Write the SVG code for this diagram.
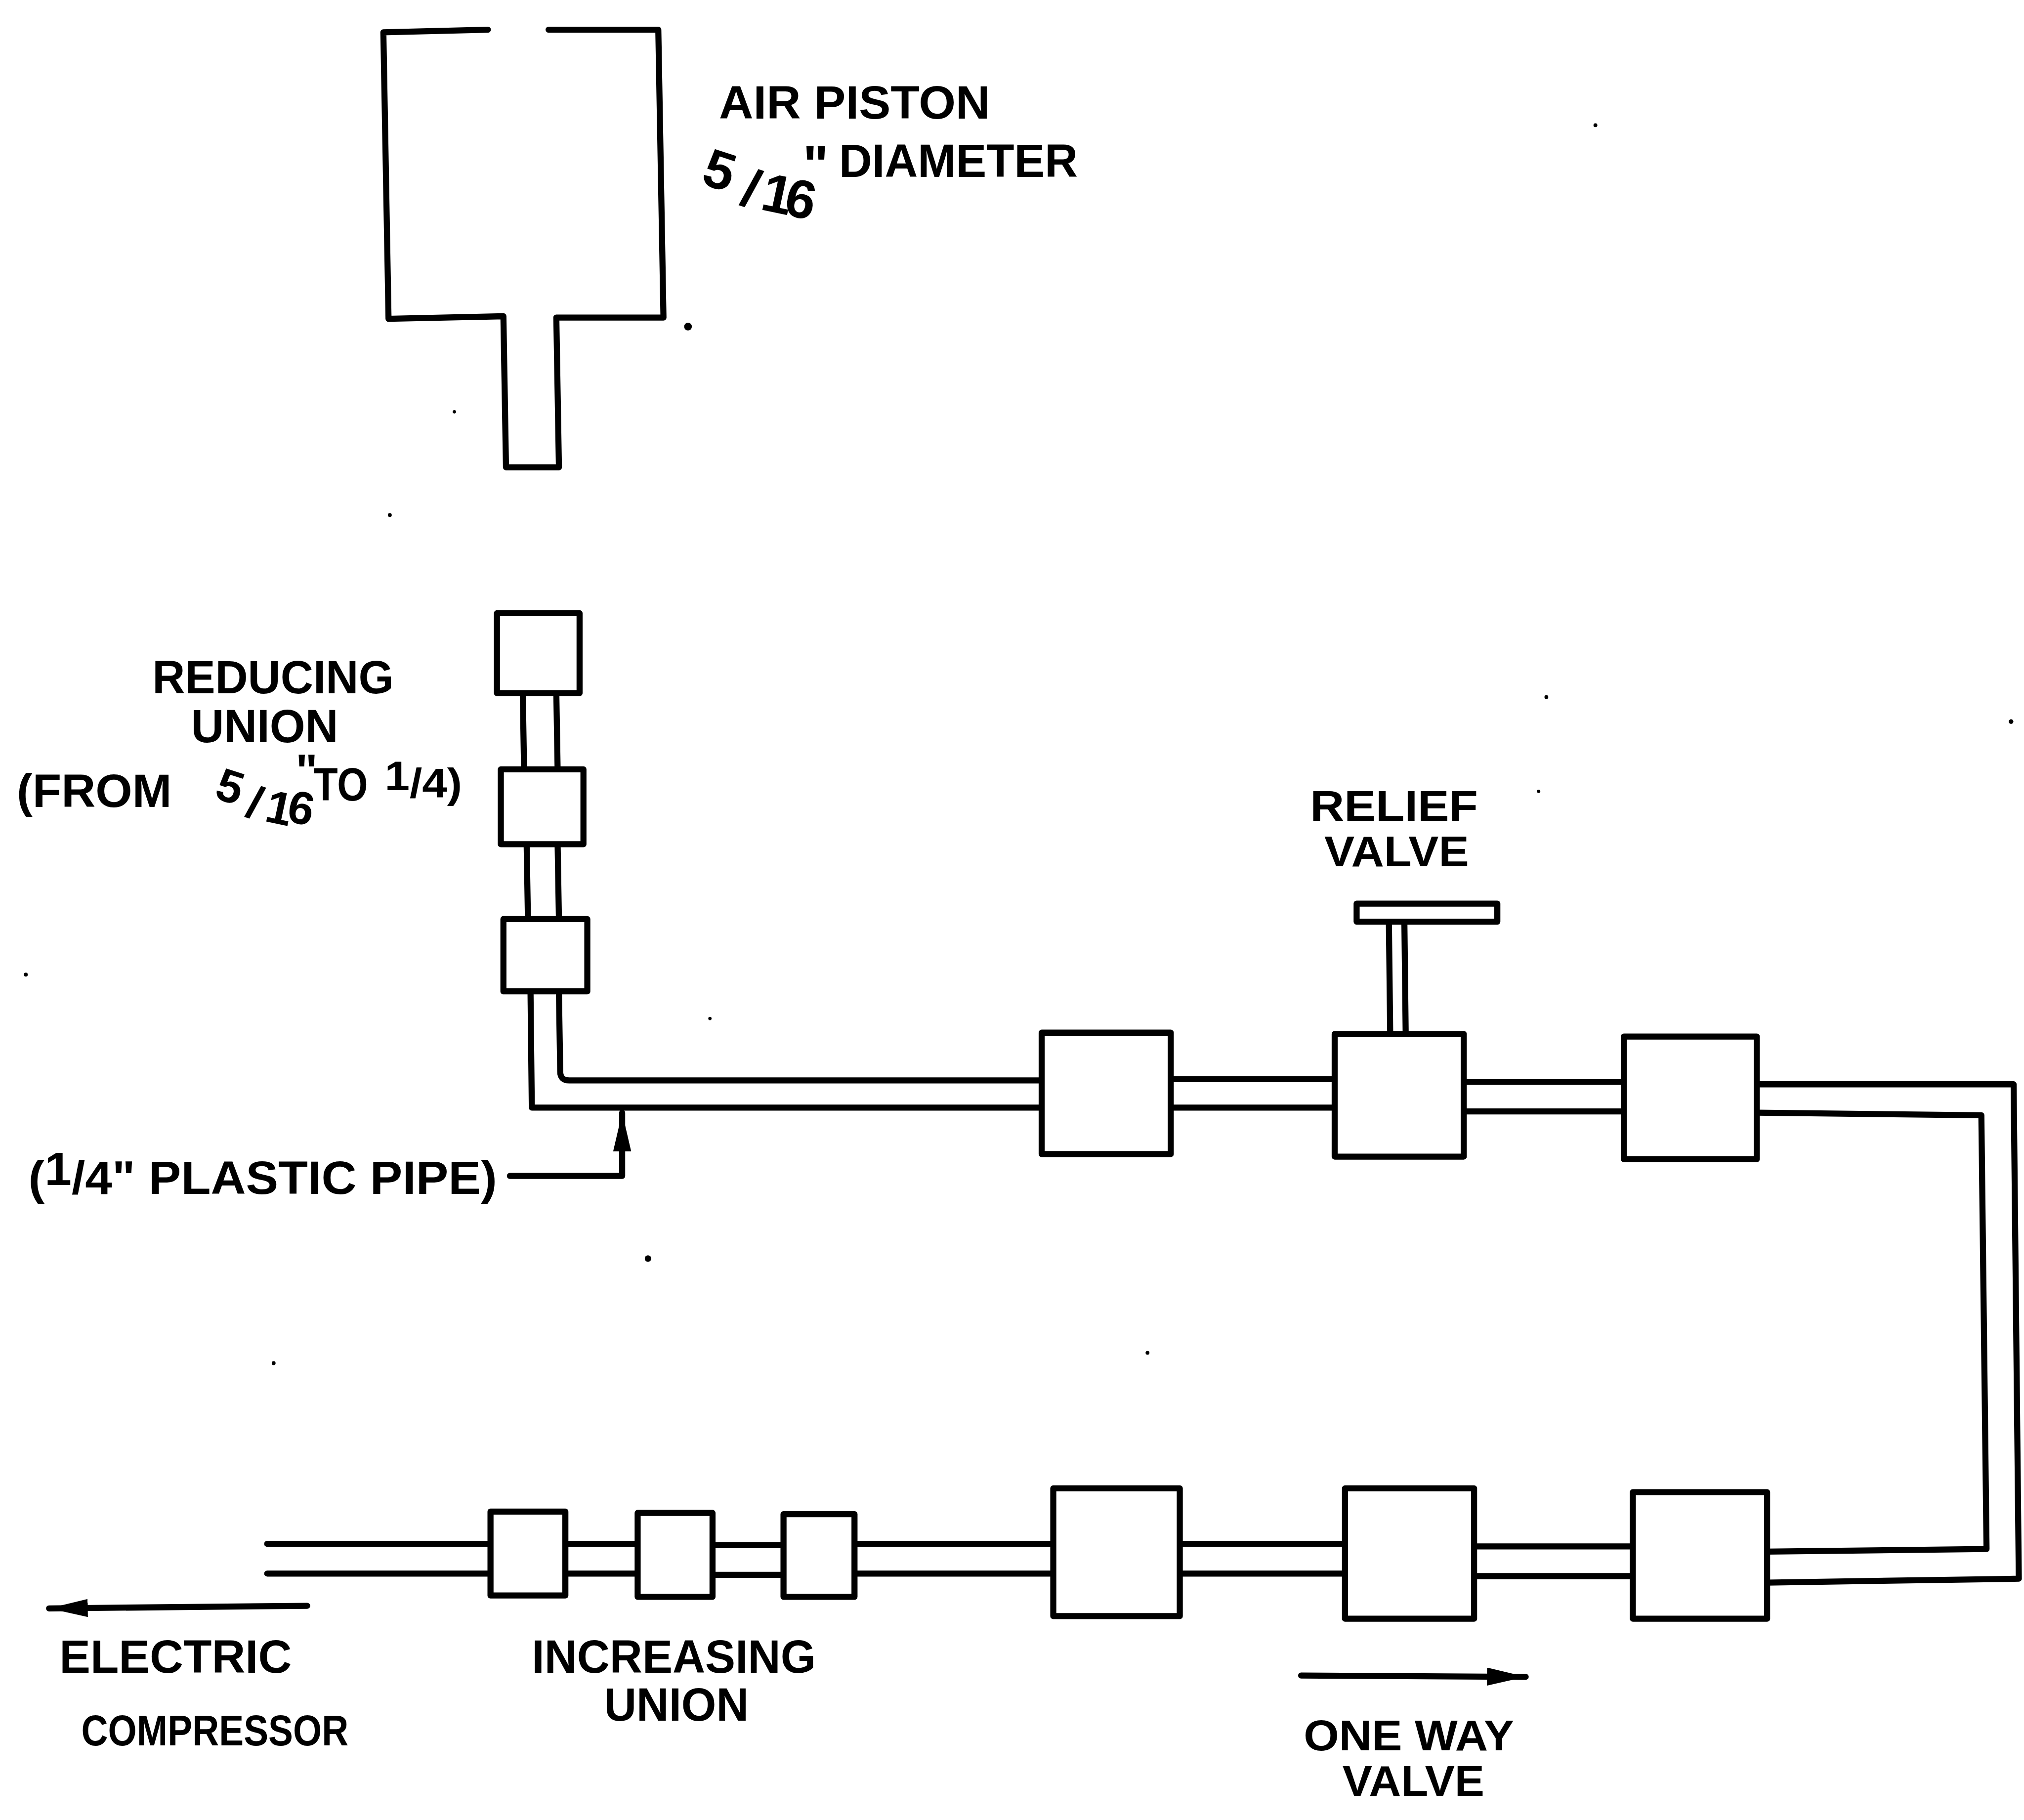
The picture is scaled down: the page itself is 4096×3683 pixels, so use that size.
<svg xmlns="http://www.w3.org/2000/svg" width="4096" height="3683" viewBox="0 0 4096 3683">
<defs>
<style>
.s{fill:none;stroke:#000;stroke-width:4.7;stroke-linejoin:round;stroke-linecap:round}
.b{fill:#fff;stroke:#000;stroke-width:4.7;stroke-linejoin:round}
.t{font-family:"Liberation Sans",Arial,sans-serif;font-weight:700;font-size:36px;fill:#000}
.h{font-family:"Liberation Sans",Arial,sans-serif;font-weight:700;font-size:42px;fill:#000}
.n{font-size:33.5px}
.d{fill:#000}
</style>
<marker id="ah" viewBox="0 0 30 14" refX="30" refY="7" markerUnits="userSpaceOnUse" markerWidth="30" markerHeight="14" orient="auto"><path d="M0 0L30 7L0 14Z" fill="#000"/></marker>
</defs>
<rect width="4096" height="3683" fill="#fff"/>
<g transform="scale(2.6122)">
<g id="connectors">
<path class="s" d="M405 537L406 596M431 537L432 596"/>
<path class="s" d="M408 654L409 712M432 654L433 712"/>
<path class="s" d="M411 768L412 858L807 858M433 768L434 830Q434 837 441 837L806 837"/>
<path class="s" d="M907 836L1034 836M907 858L1034 858"/>
<path class="s" d="M1134 838L1258 838M1134 861L1258 861"/>
<path class="s" d="M1361 840L1560 840L1564 1223L1369 1226M1361 862L1535 864L1539 1200L1369 1202"/>
<path class="s" d="M1141 1198L1266 1198M1141 1221L1266 1221"/>
<path class="s" d="M914 1196L1042 1196M914 1219L1042 1219"/>
<path class="s" d="M662 1196L816 1196M662 1219L816 1219"/>
<path class="s" d="M552 1197L607 1197M552 1220L607 1220"/>
<path class="s" d="M438 1196L494 1196M438 1219L494 1219"/>
<path class="s" d="M207 1196L380 1196M207 1219L380 1219"/>
<path class="s" d="M395 911L482 911L482 862" marker-end="url(#ah)"/>
<path class="s" d="M238 1244L38 1246" marker-end="url(#ah)"/>
<path class="s" d="M1008 1298L1182 1299" marker-end="url(#ah)"/>
</g>
<g id="air-piston"><path class="s" d="M378 23L297 25L301 247L390 245L392 362L433 362L431 246L514 246L510 23L425 23"/></g>
<g id="union-1"><rect class="b" x="385" y="475" width="64" height="62"/></g>
<g id="union-2"><rect class="b" x="388" y="596" width="64" height="58"/></g>
<g id="union-3"><rect class="b" x="390" y="712" width="65" height="56"/></g>
<g id="fitting-top-1"><rect class="b" x="807" y="800" width="100" height="94"/></g>
<g id="relief-valve">
<path class="s" d="M1076 714L1077 800M1088 714L1089 800"/>
<rect class="b" x="1051" y="700" width="109" height="14"/>
<rect class="b" x="1034" y="801" width="100" height="95"/>
</g>
<g id="fitting-top-3"><rect class="b" x="1258" y="803" width="103" height="95"/></g>
<g id="fitting-bottom-1"><rect class="b" x="1265" y="1156" width="104" height="98"/></g>
<g id="one-way-valve"><rect class="b" x="1042" y="1153" width="100" height="101"/></g>
<g id="fitting-bottom-3"><rect class="b" x="816" y="1153" width="98" height="99"/></g>
<g id="increasing-union-1"><rect class="b" x="607" y="1173" width="55" height="64"/></g>
<g id="increasing-union-2"><rect class="b" x="494" y="1172" width="58" height="65"/></g>
<g id="increasing-union-3"><rect class="b" x="380" y="1171" width="58" height="65"/></g>
<g id="labels">
<text class="t" x="557" y="92" textLength="210" lengthAdjust="spacingAndGlyphs">AIR  PISTON</text>
<text class="t" x="650" y="137" textLength="185" lengthAdjust="spacingAndGlyphs">DIAMETER</text>
<text class="h" x="542 572 588 606 622" y="142 158 162 166 142" rotate="18 18 12 12 0">5/16"</text>
<text class="t" x="118" y="537" textLength="187" lengthAdjust="spacingAndGlyphs">REDUCING</text>
<text class="t" x="148" y="575" textLength="114" lengthAdjust="spacingAndGlyphs">UNION</text>
<text class="t" x="13" y="625" textLength="120" lengthAdjust="spacingAndGlyphs">(FROM</text>
<text class="h" style="font-size:36px" x="165 189 204 221 229" y="618 632 636 636 610" rotate="18 18 12 12 0">5/16"</text>
<text class="t" x="243" y="620" textLength="42" lengthAdjust="spacingAndGlyphs">TO</text>
<text class="t" x="298" y="618" style="font-size:32px" textLength="60" lengthAdjust="spacingAndGlyphs"><tspan dy="-6">1</tspan><tspan dy="6">/4)</tspan></text>
<text class="t" x="22" y="925" textLength="363" lengthAdjust="spacingAndGlyphs">(<tspan dy="-7">1</tspan><tspan dy="7">/4" PLASTIC PIPE)</tspan></text>
<text class="t n" x="1015" y="636" textLength="130" lengthAdjust="spacingAndGlyphs">RELIEF</text>
<text class="t n" x="1026" y="671" textLength="112" lengthAdjust="spacingAndGlyphs">VALVE</text>
<text class="t" x="46" y="1296" textLength="180" lengthAdjust="spacingAndGlyphs">ELECTRIC</text>
<text class="t" x="63" y="1352" style="font-size:33px" textLength="207" lengthAdjust="spacingAndGlyphs">COMPRESSOR</text>
<text class="t" x="412" y="1296" textLength="220" lengthAdjust="spacingAndGlyphs">INCREASING</text>
<text class="t" x="468" y="1333" textLength="112" lengthAdjust="spacingAndGlyphs">UNION</text>
<text class="t n" x="1010" y="1356" textLength="163" lengthAdjust="spacingAndGlyphs">ONE WAY</text>
<text class="t n" x="1040" y="1391" textLength="110" lengthAdjust="spacingAndGlyphs">VALVE</text>
</g>
<g id="specks">
<circle class="d" cx="1236" cy="97" r="1.5"/><circle class="d" cx="533" cy="253" r="3"/><circle class="d" cx="352" cy="319" r="1.3"/><circle class="d" cx="302" cy="399" r="1.5"/><circle class="d" cx="1198" cy="540" r="1.5"/><circle class="d" cx="1558" cy="559" r="1.8"/><circle class="d" cx="1192" cy="613" r="1.3"/><circle class="d" cx="20" cy="755" r="1.5"/><circle class="d" cx="550" cy="789" r="1.3"/><circle class="d" cx="502" cy="975" r="2.5"/><circle class="d" cx="212" cy="1056" r="1.5"/><circle class="d" cx="889" cy="1048" r="1.5"/>
</g>
</g>
</svg>
